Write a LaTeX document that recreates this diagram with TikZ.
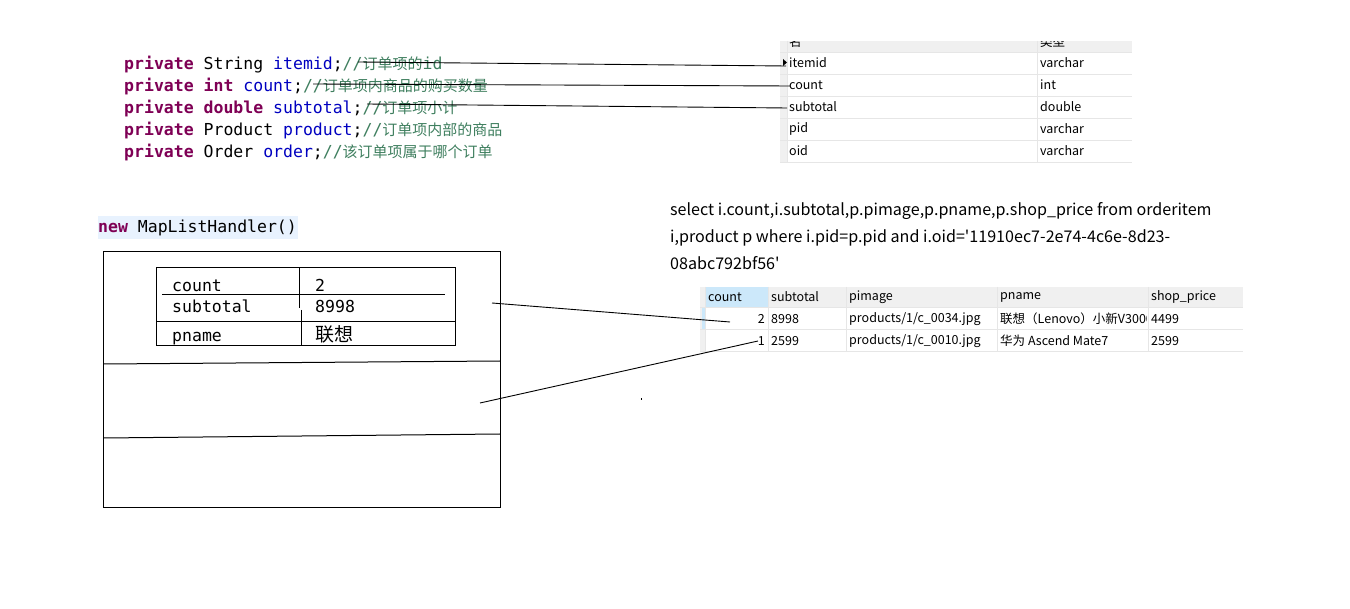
\documentclass[tikz,border=0pt]{standalone}
\usepackage{fontspec}
\setmonofont{DejaVu Sans Mono}
\newfontfamily\cjk{Noto Sans CJK SC}
\definecolor{kwc}{HTML}{7F0055}
\definecolor{vrc}{HTML}{0000C0}
\definecolor{cmc}{HTML}{3F7F5F}
\definecolor{gridl}{HTML}{E6E6E6}
\definecolor{hdr}{HTML}{F0F0F0}
\definecolor{selblue}{HTML}{CCE8FA}
\definecolor{hlbg}{HTML}{E8F2FE}
\newcommand{\cf}{\ttfamily\fontsize{16.5}{18}\selectfont}
\newcommand{\kw}[1]{\textbf{\color{kwc}#1}}
\newcommand{\vr}[1]{{\color{vrc}#1}}
\newcommand{\cm}[1]{{\color{cmc}//{\cjk\fontsize{15}{16}\selectfont #1}}}
\newcommand{\cmid}{{\color{cmc}id}}
\newcommand{\tf}{\cjk\fontsize{12.5}{14}\selectfont}
\newcommand{\sqf}{\cjk\fontsize{16.1}{20}\selectfont}
\tikzset{
  code/.style={anchor=base west, inner sep=0pt, font=\cf},
  cell/.style={anchor=west, inner sep=0pt, font=\tf},
  rcell/.style={anchor=east, inner sep=0pt, font=\tf},
  itab/.style={anchor=base west, inner sep=0pt, font=\cf},
  link/.style={draw=black, line width=0.9pt},
  frame/.style={draw=black, line width=1pt}
}
\begin{document}
\begin{tikzpicture}[x=1pt,y=-1pt]
\useasboundingbox (0,0) rectangle (1350,609);
\fill[white] (0,0) rectangle (1350,609);

% ---- code lines
\node[code] (c1) at (124,70) {\kw{private} String \vr{itemid};\cm{订单项的}\cmid};
\node[code] (c2) at (124,92) {\kw{private} \kw{int} \vr{count};\cm{订单项内商品的购买数量}};
\node[code] (c3) at (124,114) {\kw{private} \kw{double} \vr{subtotal};\cm{订单项小计}};
\node[code] (c4) at (124,136) {\kw{private} Product \vr{product};\cm{订单项内部的商品}};
\node[code] (c5) at (124,158) {\kw{private} Order \vr{order};\cm{该订单项属于哪个订单}};

% ---- top table (orderitem columns)
\fill[hdr] (780,41) rectangle (1132,52);
\fill[hdr] (780,52) rectangle (787,162);
\foreach \yy in {52,74,96,118,140,162} \draw[gridl, line width=0.8pt] (780,\yy) -- (1132,\yy);
\draw[gridl, line width=0.8pt] (1037,41) -- (1037,162);
\draw[gridl, line width=0.8pt] (787,41) -- (787,162);
\begin{scope}
\clip (780,42) rectangle (1132,52);
\node[cell] (hname) at (789,42) {名};
\node[cell] (htype) at (1040,42) {类型};
\end{scope}
\node[cell] (r1) at (789,63) {itemid};
\node[cell] (t1) at (1040,63) {varchar};
\node[cell] (r2) at (789,85) {count};
\node[cell] (t2) at (1040,85) {int};
\node[cell] (r3) at (789,107) {subtotal};
\node[cell] (t3) at (1040,107) {double};
\node[cell] (r4) at (789,129) {pid};
\node[cell] (t4) at (1040,129) {varchar};
\node[cell] (r5) at (789,151) {oid};
\node[cell] (t5) at (1040,151) {varchar};
\fill[black] (783,59) -- (787,62.5) -- (783,66) -- cycle;

% ---- links code -> table
\coordinate (a1) at (358,62);
\coordinate (b1) at (786,66);
\coordinate (a2) at (313,84);
\coordinate (b2) at (790,86);
\coordinate (a3) at (367,104);
\coordinate (b3) at (787,108);
\draw[link] (a1) -- (b1);
\draw[link] (a2) -- (b2);
\draw[link] (a3) -- (b3);

% ---- MapListHandler
\fill[hlbg] (98,216) rectangle (298,239);
\node[code] (mlh) at (98,233) {\kw{new} MapListHandler()};

% big box
\draw[frame] (103,252) rectangle (500,507);
\coordinate (h1l) at (104,364);
\coordinate (h1r) at (500,361);
\coordinate (h2l) at (104,438);
\coordinate (h2r) at (500,434);
\draw[frame] (h1l) -- (h1r);
\draw[frame] (h2l) -- (h2r);

% inner map table
\draw[frame] (156,268) rectangle (455,346);
\draw[frame] (162,295) -- (445,295);
\draw[frame] (156,322) -- (455,322);
\draw[frame] (299,268) -- (299,308);
\draw[frame] (301,310) -- (301,346);
\node[itab] (k1) at (172,292) {count};
\node[itab] (v1) at (315,292) {2};
\node[itab] (k2) at (172,313) {subtotal};
\node[itab] (v2) at (315,313) {8998};
\node[itab] (k3) at (172,342) {pname};
\node[itab, font=\cjk\fontsize{19}{20}\selectfont] (v3) at (315,342) {联想};

% ---- SQL text
\node[anchor=base west, inner sep=0pt, font=\sqf] (sql1) at (670,216) {select i.count,i.subtotal,p.pimage,p.pname,p.shop\_price from orderitem};
\node[anchor=base west, inner sep=0pt, font=\sqf] (sql2) at (670,243) {i,product p where i.pid=p.pid and i.oid='11910ec7-2e74-4c6e-8d23-};
\node[anchor=base west, inner sep=0pt, font=\sqf] (sql3) at (670,270) {08abc792bf56'};

% ---- result table
\fill[hdr] (700,287) rectangle (1243,307);
\fill[selblue] (705,287) rectangle (768,307);
\fill[hdr] (700,307) rectangle (705,351);
\fill[selblue] (702,307) rectangle (705,329);
\foreach \yy in {307,329,351} \draw[gridl, line width=0.8pt] (700,\yy) -- (1243,\yy);
\foreach \xx in {705,768,846,997,1148} \draw[gridl, line width=0.8pt] (\xx,287) -- (\xx,351);
\node[cell] (hc) at (708,297) {count};
\node[cell] (hs) at (771,297) {subtotal};
\node[cell] (hi) at (849,297) {pimage};
\node[cell] (hn) at (1000,297) {pname};
\node[cell] (hp) at (1151,297) {shop\_price};
\node[rcell] (q1) at (765,319) {2};
\node[cell] (s1) at (771,319) {8998};
\node[cell] (i1) at (849,319) {products/1/c\_0034.jpg};
\begin{scope}
\clip (997,308) rectangle (1146,329);
\node[cell] (n1) at (1000,319) {联想（Lenovo）小新V3000};
\end{scope}
\node[cell] (p1) at (1151,319) {4499};
\node[rcell] (q2) at (765,341) {1};
\node[cell] (s2) at (771,341) {2599};
\node[cell] (i2) at (849,341) {products/1/c\_0010.jpg};
\node[cell] (n2) at (1000,341) {华为 Ascend Mate7};
\node[cell] (p2) at (1151,341) {2599};

% ---- links map -> rows
\coordinate (m1) at (492,303);
\coordinate (e1) at (730,322);
\coordinate (m2) at (480,403);
\coordinate (e2) at (758,341);
\draw[link] (m1) -- (e1);
\draw[link] (m2) -- (e2);

% stray dot
\fill[black] (640.5,398) rectangle (641.5,400);
\end{tikzpicture}
\end{document}
